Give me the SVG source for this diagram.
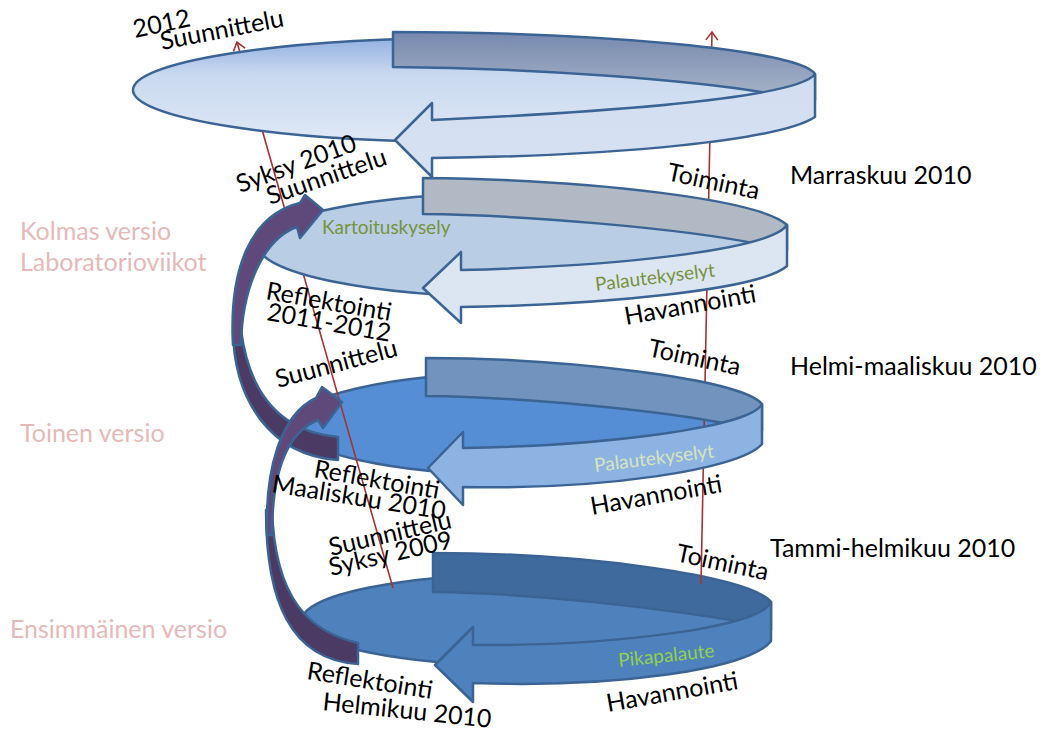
<svg xmlns="http://www.w3.org/2000/svg" width="1044" height="731" viewBox="0 0 1044 731">
<defs>
<style>
.lbl{font-family:Lato,"Liberation Sans",sans-serif;font-size:25px;fill:#000}
.ver{font-family:Lato,"Liberation Sans",sans-serif;font-size:25px;fill:#e6b9b8}
.grn{font-family:Lato,"Liberation Sans",sans-serif;font-size:19px}
.edge{stroke:#3b6494;stroke-width:2.5;stroke-linejoin:round}
.red{stroke:#a83232;stroke-width:1.6;fill:none}
.pl{fill:#5f497a}
.pd{fill:#4b3a63}
</style>
<linearGradient id="d1" x1="0" y1="0" x2="0" y2="1">
<stop offset="0" stop-color="#93b1e2"/><stop offset="0.35" stop-color="#c9d9f0"/><stop offset="1" stop-color="#dfe8f5"/>
</linearGradient>
<linearGradient id="b1" x1="0" y1="0" x2="0" y2="1">
<stop offset="0" stop-color="#7689ae"/><stop offset="1" stop-color="#a9b5c9"/>
</linearGradient>
<linearGradient id="f1" x1="0" y1="0" x2="0" y2="1">
<stop offset="0" stop-color="#d2def0"/><stop offset="1" stop-color="#d6e1f2"/>
</linearGradient>
<marker id="ah" markerUnits="userSpaceOnUse" markerWidth="16" markerHeight="16" refX="10" refY="8" orient="auto">
<path d="M2,2 L10,8 L2,14" fill="none" stroke="#a83232" stroke-width="1.6"/>
</marker>
</defs>
<rect width="1044" height="731" fill="#fff"/>

<g id="ring4">
<ellipse class="edge" cx="532" cy="620" rx="230" ry="46" fill="#4f81bd"/>
<path class="edge" fill="#3f6a9e" d="M433,553 C580,553 750,575 771,602 L771,630 L743,622 C660,608 530,593 433,592 Z"/>
<path class="edge" fill="#4f81bd" d="M771,602 C760,628 610,646 473,645 L473,627 L435,665 L473,702 L473,683 C610,688 750,670 771,641 Z"/>
</g>

<g id="ring3-disk">
<ellipse class="edge" cx="520" cy="424" rx="228" ry="51" fill="#558ed5"/>
</g>

<g id="connectors">
<line class="red" x1="393" y1="588" x2="237" y2="42" marker-end="url(#ah)"/>
<line class="red" x1="701" y1="584" x2="712" y2="32" marker-end="url(#ah)"/>
</g>

<g id="ring3">
<path class="edge" fill="#7193bd" d="M426,358 C560,358 740,378 762,404 L762,430 L733,425 C660,410 520,397 426,396 Z"/>
<path class="edge" fill="#8db3e2" d="M762,404 C750,428 600,446 463,448 L463,432 L428,468 L463,505 L463,487 C600,490 740,470 762,444 Z"/>
</g>

<g id="ring2">
<ellipse class="edge" cx="518" cy="245" rx="260" ry="52" fill="#b9cde5"/>
<path class="edge" fill="#b1b9c4" d="M423,178 C600,180 760,200 787,225 L787,250 L758,244 C680,228 520,215 423,214 Z"/>
<path class="edge" fill="#dce6f2" d="M787,225 C770,250 620,266 461,270 L461,252 L423,288 L461,323 L461,307 C600,305 760,290 787,266 Z"/>
</g>

<g id="ring1">
<ellipse class="edge" cx="470" cy="90" rx="337" ry="52" fill="url(#d1)"/>
<path class="edge" fill="url(#b1)" d="M393,32 C600,32 800,50 815,74 L815,100 L778,95 C700,80 530,68 393,67 Z"/>
<path class="edge" fill="url(#f1)" d="M815,74 C800,95 650,110 432,120 L432,103 L395,140 L432,177 L432,158 C620,156 780,140 815,117 Z"/>
</g>

<g id="arrowA">
<path class="edge pd" d="M233,330 C234,400 270,455 338,460 L338,437 C285,432 250,400 241,330 Z"/>
<path class="edge pl" d="M233,345 C229,270 250,215 300,203 L305,195 L323,210 L300,238 L297,227 C265,238 242,285 241,345 Z"/>
</g>
<g id="arrowB">
<path class="edge pd" d="M266,510 C266,600 290,660 358,664 L358,643 C310,632 275,600 272,510 Z"/>
<path class="edge pl" d="M267,535 C265,470 280,415 316,398 L322,387 L342,402 L323,428 L318,420 C288,432 272,470 272,535 Z"/>
</g>

<g id="labels">
<text class="lbl" transform="translate(135,38) rotate(-12)">2012</text>
<text class="lbl" transform="translate(162,50) rotate(-11)">Suunnittelu</text>
<text class="lbl" transform="translate(240,193) rotate(-20)">Syksy 2010</text>
<text class="lbl" transform="translate(270,205) rotate(-19)">Suunnittelu</text>
<text class="lbl" transform="translate(666,180) rotate(12)">Toiminta</text>
<text class="lbl" x="790" y="184">Marraskuu 2010</text>
<text class="grn" x="322" y="234" fill="#77933c">Kartoituskysely</text>
<text class="grn" transform="translate(596,291) rotate(-7)" fill="#77933c">Palautekyselyt</text>
<text class="lbl" transform="translate(626,325) rotate(-10)">Havannointi</text>
<text class="ver" x="20" y="240">Kolmas versio</text>
<text class="ver" x="20" y="271">Laboratorioviikot</text>
<text class="lbl" transform="translate(265,299) rotate(10)">Reflektointi</text>
<text class="lbl" transform="translate(266,320) rotate(10)">2011-2012</text>
<text class="lbl" transform="translate(278,388) rotate(-15)">Suunnittelu</text>
<text class="lbl" transform="translate(647,356) rotate(12)">Toiminta</text>
<text class="lbl" x="790" y="375">Helmi-maaliskuu 2010</text>
<text class="ver" x="20" y="442">Toinen versio</text>
<text class="grn" transform="translate(595,472) rotate(-7)" fill="#d7e4bd">Palautekyselyt</text>
<text class="lbl" transform="translate(592,515) rotate(-10)">Havannointi</text>
<text class="lbl" transform="translate(313,477) rotate(10)">Reflektointi</text>
<text class="lbl" transform="translate(271,492) rotate(9)">Maaliskuu 2010</text>
<text class="lbl" transform="translate(331,556) rotate(-13)">Suunnittelu</text>
<text class="lbl" transform="translate(331,576) rotate(-13)">Syksy 2009</text>
<text class="lbl" transform="translate(675,561) rotate(12)">Toiminta</text>
<text class="lbl" x="770" y="557">Tammi-helmikuu 2010</text>
<text class="ver" x="10" y="638">Ensimmäinen versio</text>
<text class="grn" transform="translate(619,667) rotate(-6)" fill="#92d050">Pikapalaute</text>
<text class="lbl" transform="translate(608,712) rotate(-10)">Havannointi</text>
<text class="lbl" transform="translate(306,679) rotate(9)">Reflektointi</text>
<text class="lbl" transform="translate(322,710) rotate(6)">Helmikuu 2010</text>
</g>
</svg>
